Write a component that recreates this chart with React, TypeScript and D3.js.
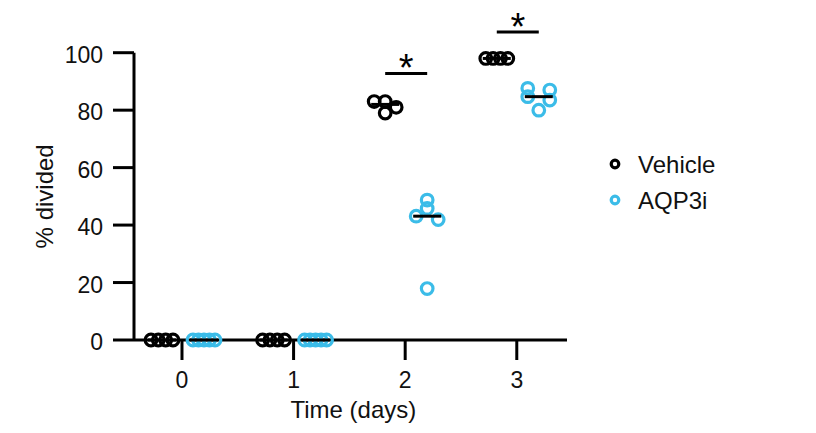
import * as d3 from "d3";

// chart values
const days = [0, 1, 2, 3];
const vehicle = [
  [0, 0, 0, 0],
  [0, 0, 0, 0],
  [83, 83, 81, 79],
  [98, 98, 98, 98],
];
const aqp3i = [
  [0, 0, 0, 0, 0],
  [0, 0, 0, 0, 0],
  [48.7, 45.8, 43.1, 41.9, 17.9],
  [87.6, 87, 84.7, 83.5, 80],
];
const yTicks = [0, 20, 40, 60, 80, 100];
const sigDays = [2, 3];
const sigLevels = [92.8, 107.2];

const WIDTH = 816;
const HEIGHT = 433;
const FONT = "'Liberation Sans', Arial, Helvetica, sans-serif";
const BLUE = "#3bbce8";

const series = [
  { name: "Vehicle", values: vehicle, color: "#000", offset: -20 },
  { name: "AQP3i", values: aqp3i, color: BLUE, offset: 22 },
];

// GraphPad-like scatter: points that sit close together are spread across a row
const layoutRow = (vals: number[], spread: number, tol: number) => {
  const sorted = vals.map((v, i) => ({ v, i })).sort((a, b) => b.v - a.v);
  const rows: { v: number; i: number }[][] = [];
  sorted.forEach((p) => {
    const last = rows[rows.length - 1];
    if (last && last[0].v - p.v <= tol) last.push(p);
    else rows.push([p]);
  });
  const out: { v: number; dx: number }[] = [];
  rows.forEach((row) => {
    const n = row.length;
    row.forEach((p, k) => {
      const dx = n === 1 ? 0 : -spread / 2 + (spread * k) / (n - 1);
      out.push({ v: p.v, dx });
    });
  });
  return out;
};

export default function App() {
  const x = d3.scaleLinear().domain([-0.43, 3.45]).range([134, 567]);
  const y = d3.scaleLinear().domain([0, 100]).range([340, 52.7]);

  return (
    <svg
      width={WIDTH}
      height={HEIGHT}
      style={{ position: "absolute", left: 0, top: 0, background: "#fff" }}
      fontFamily={FONT}
    >
      {/* y axis */}
      <line x1={x(-0.43)} x2={x(-0.43)} y1={y(100)} y2={y(0)} stroke="#000" strokeWidth={3} />
      {yTicks.map((t) => (
        <g key={t}>
          <line x1={113} x2={x(-0.43)} y1={y(t)} y2={y(t)} stroke="#000" strokeWidth={3} />
          <text x={103} y={y(t) + 10} textAnchor="end" fontSize={23} fill="#111">
            {t}
          </text>
        </g>
      ))}
      <text
        transform={`translate(53, ${(y(0) + y(100)) / 2}) rotate(-90)`}
        textAnchor="middle"
        fontSize={24}
        fill="#111"
      >
        % divided
      </text>

      {/* x axis */}
      <line x1={x(-0.43)} x2={x(3.45)} y1={y(0)} y2={y(0)} stroke="#000" strokeWidth={3} />
      {days.map((d) => (
        <g key={d}>
          <line x1={x(d)} x2={x(d)} y1={y(0)} y2={y(0) + 20} stroke="#000" strokeWidth={3} />
          <text x={x(d)} y={388} textAnchor="middle" fontSize={23} fill="#111">
            {d}
          </text>
        </g>
      ))}
      <text x={(x(0) + x(3)) / 2 + 4} y={418} textAnchor="middle" fontSize={24} fill="#111">
        Time (days)
      </text>

      {/* points */}
      {series.map((s) =>
        days.map((d, di) => {
          const cx = x(d) + s.offset;
          const pts = layoutRow(s.values[di], 22, 2.5);
          return (
            <g key={s.name + d}>
              {pts.map((p, k) => (
                <circle
                  key={k}
                  cx={cx + p.dx}
                  cy={y(p.v)}
                  r={5.8}
                  fill="none"
                  stroke={s.color}
                  strokeWidth={3.2}
                />
              ))}
            </g>
          );
        })
      )}

      {/* medians */}
      {series.map((s) =>
        days.map((d, di) => {
          const cx = x(d) + s.offset;
          const m = d3.median(s.values[di]) ?? 0;
          return (
            <line
              key={"m" + s.name + d}
              x1={cx - 14}
              x2={cx + 14}
              y1={y(m)}
              y2={y(m)}
              stroke="#000"
              strokeWidth={3}
            />
          );
        })
      )}

      {/* significance */}
      {sigDays.map((d, i) => {
        const x1 = x(d) + series[0].offset;
        const x2 = x(d) + series[1].offset;
        const yy = y(sigLevels[i]);
        return (
          <g key={"s" + d}>
            <line x1={x1} x2={x2} y1={yy} y2={yy} stroke="#000" strokeWidth={3} />
            <text x={(x1 + x2) / 2} y={yy + 8} textAnchor="middle" fontSize={38} fill="#000">
              *
            </text>
          </g>
        );
      })}

      {/* legend */}
      {series.map((s, i) => (
        <g key={"l" + s.name} transform={`translate(615, ${164 + i * 36})`}>
          <circle r={3.8} fill="none" stroke={s.color} strokeWidth={3.2} />
          <text x={23} y={8.5} fontSize={24} fill="#111">
            {s.name}
          </text>
        </g>
      ))}
    </svg>
  );
}
